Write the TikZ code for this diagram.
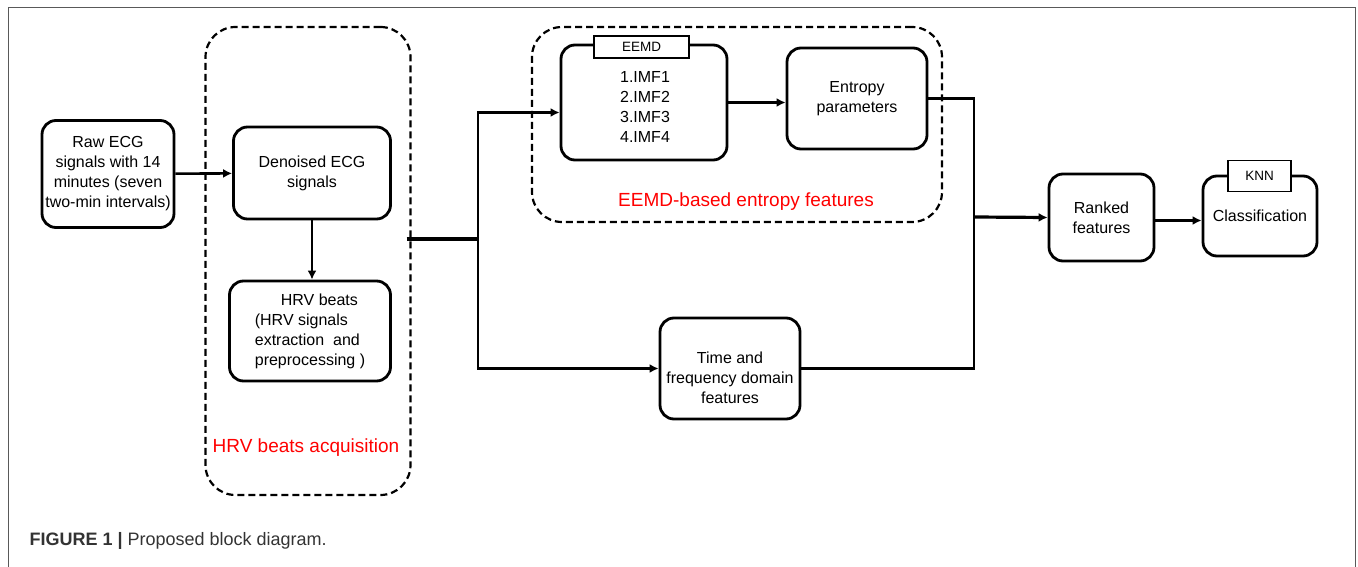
\documentclass[tikz,border=0pt]{standalone}
\usepackage{fontspec}
\setmainfont{Liberation Sans}
\usetikzlibrary{calc,positioning,arrows.meta}

\begin{document}
\begin{tikzpicture}[x=1pt,y=-1pt,
    block/.style={draw, line width=2.8pt, rounded corners=14pt, align=center, inner sep=1pt, font=\fontsize{16}{20}\selectfont},
    blocktxt/.style={align=center, inner sep=1pt, font=\fontsize{16}{20}\selectfont},
    group/.style={draw, line width=2.2pt, rounded corners=30pt, dash pattern=on 7pt off 4pt},
    tab/.style={draw, line width=1.6pt, fill=white, inner sep=1pt, font=\fontsize{13.5}{15}\selectfont},
    arr/.style={-{Latex[length=9pt,width=9pt]}, line width=2.6pt},
    lbl/.style={text=red, font=\fontsize{19}{21}\selectfont}]

\useasboundingbox (0,0) rectangle (1358,567);
% frame
\draw[gray!70!black, line width=1pt] (8,567) -- (8,8) -- (1355,8) -- (1355,567);

% HRV beats acquisition
\node[block, minimum width=132pt, minimum height=107pt] (raw) at (108,174) {Raw ECG\\signals with 14\\minutes (seven\\two-min intervals)};
\node[group, minimum width=205pt, minimum height=468pt] (hrvgrp) at (308,261) {};
\node[block, minimum width=157pt, minimum height=92pt] (denoised) at (312,173) {Denoised ECG\\signals};
\node[block, minimum width=161pt, minimum height=100pt, align=left] (hrv) at (310,331) {\hspace{26pt}HRV beats\\(HRV signals\\extraction\ \ and\\preprocessing )};
\node[lbl] (hrvlbl) at (306,448) {HRV beats acquisition};

% EEMD-based entropy features
\node[group, minimum width=410pt, minimum height=195pt] (eemdgrp) at (737,124.5) {};
\node[block, minimum width=166pt, minimum height=115pt] (eemd) at (644,102.5) {};
\node[blocktxt] (eemdtxt) at (645,106.5) {1.IMF1\\2.IMF2\\3.IMF3\\4.IMF4};
\node[tab, minimum width=95pt, minimum height=22pt] (eemdtab) at (641.5,47) {EEMD};
\node[block, minimum width=140pt, minimum height=101pt] (entropy) at (857,98.5) {Entropy\\parameters};
\node[lbl] (eemdlbl) at (746,202) {EEMD-based entropy features};

% time and frequency domain
\node[block, minimum width=140pt, minimum height=101pt] (time) at (730,368.5) {};
\node[blocktxt] (timetxt) at (730,378) {Time and\\frequency domain\\features};

% ranking and classification
\node[block, minimum width=105pt, minimum height=87pt] (ranked) at (1101.5,217.5) {Ranked\\features};
\node[block, minimum width=114pt, minimum height=80pt] (class) at (1260,216) {Classification};
\node[tab, minimum width=63pt, minimum height=31pt] (knntab) at (1259.5,176) {KNN};

% connectors
\coordinate (split) at (478,239);
\coordinate (merge) at (974,217);
\draw[arr] (raw) -- (denoised);
\draw[arr] (denoised.south) -- (denoised.south |- hrv.north);
\draw[line width=4.5pt] ([xshift=-5pt]hrvgrp.east |- split) -- (split);
\draw[arr] (split) |- ([yshift=-10pt]eemd.west);
\draw[arr] (split) |- (time.west);
\draw[arr] (eemd.east) -- (eemd.east -| entropy.west);
\draw[line width=2.6pt] (entropy.east) -| (merge);
\draw[line width=2.6pt] (time.east) -| (merge);
\draw[arr, line width=3.2pt] (merge) -- (ranked.west);
\draw[arr] ([yshift=-3pt]ranked.east) -- ([yshift=-3pt]ranked.east -| class.west);

% caption
\node[anchor=base west, font=\fontsize{18}{20}\selectfont, text=black!80] (caption) at (26,545) {\textbf{FIGURE 1 |} Proposed block diagram.};
\end{tikzpicture}
\end{document}
